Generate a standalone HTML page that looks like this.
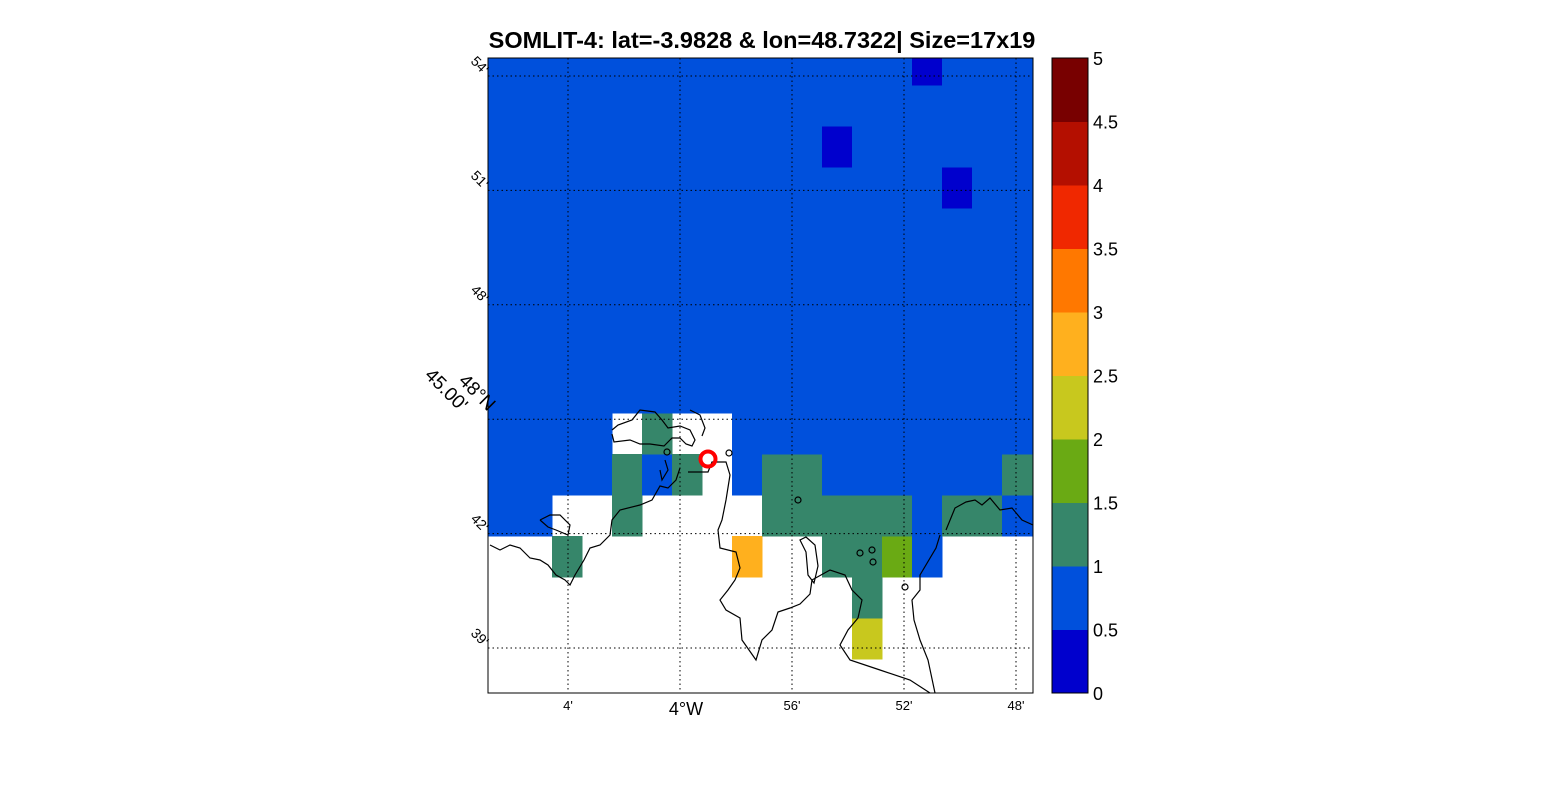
<!DOCTYPE html>
<html><head><meta charset="utf-8"><style>
body{margin:0;background:#fff;}
svg text{font-family:"Liberation Sans",sans-serif;}
</style></head><body>
<svg width="1563" height="781" xmlns="http://www.w3.org/2000/svg">
<text x="762" y="48" text-anchor="middle" font-size="23.5" font-weight="bold">SOMLIT-4: lat=-3.9828 &amp; lon=48.7322| Size=17x19</text>
<defs><clipPath id="ax"><rect x="488" y="58" width="545" height="635"/></clipPath></defs>
<g id="cells" clip-path="url(#ax)"></g>
<g id="grid"></g>
<g clip-path="url(#ax)" fill="none" stroke="#000" stroke-width="1.2">
<path d="M612,430 L618,425 L632,420 L640,410 L655,412 L662,420 L668,428 L680,426 L690,430 L695,440 L692,446 L686,444 L680,438 L672,438 L664,446 L650,444 L640,444 L630,440 L614,442 L612,434"/>
<path d="M690,410 L700,415 L705,428 L702,436"/>
<path d="M680,468 L676,480 L668,488 L660,486 L652,500 L640,505 L620,510 L612,520 L610,535 L600,545 L590,548 L584,560 L575,575 L570,585 L565,580 L556,575 L548,565 L540,560 L530,558 L520,548 L510,545 L500,550 L490,545"/>
<path d="M660,470 L662,480 L668,470 L665,460"/>
<path d="M688,472 L708,472 L712,462 L726,462 L730,475 L726,500 L722,520 L718,530 L720,548 L736,552 L740,568 L735,580 L728,590 L720,600 L726,610 L740,618 L742,640 L756,660 L762,640 L772,630 L778,612 L790,608 L800,604 L810,594 L812,580 L830,570 L845,575 L852,590 L862,600 L858,618 L848,630 L840,645 L850,660 L880,670 L910,680 L930,693"/>
<path d="M540,520 L550,515 L560,515 L570,525 L568,535 L556,530 L548,527 L540,520"/>
<path d="M800,540 L806,552 L808,575 L814,583 L818,566 L815,545 L806,537 Z"/>
<path d="M940,535 L936,548 L920,575 L920,590 L912,600 L914,620 L920,640 L928,660 L935,693"/>
<path d="M946,530 L955,508 L966,502 L975,500 L982,505 L990,498 L1000,510 L1012,508 L1022,520 L1033,525"/>
<circle cx="798" cy="500" r="3"/><circle cx="860" cy="553" r="3"/><circle cx="872" cy="550" r="3"/><circle cx="873" cy="562" r="3"/><circle cx="905" cy="587" r="3"/><circle cx="729" cy="453" r="3"/><circle cx="667" cy="452" r="3"/>
</g>
<rect x="488" y="58" width="545" height="635" fill="none" stroke="#000" stroke-width="1"/>
<circle cx="708" cy="459" r="7.5" fill="none" stroke="#f00" stroke-width="4"/>
<g id="ticks"></g>
<g id="cbar"></g>
<text transform="translate(438,362) rotate(45)" font-size="19"><tspan x="28" y="0">48°N</tspan><tspan x="0" y="20">45.00'</tspan></text>
<text x="686" y="715" text-anchor="middle" font-size="18">4°W</text>
<script>
const NS='http://www.w3.org/2000/svg';
const N=null;
// values by row from bottom (row 0) to top, 19 columns
const rows=[
[N,N,N,N,N,N,N,N,N,N,N,N,N,2.2,N,N,N,N,N],
[N,N,N,N,N,N,N,N,N,N,N,N,N,1.2,N,N,N,N,N],
[N,N,N,1.2,N,N,N,N,N,2.7,N,N,1.2,1.2,1.7,0.8,N,N,N],
[0.8,0.8,0.8,N,N,1.2,N,N,N,N,1.2,1.2,1.2,1.2,1.2,0.8,1.2,1.2,0.8],
[0.8,0.8,0.8,0.8,0.8,1.2,0.8,1.2,N,0.8,1.2,1.2,0.8,0.8,0.8,0.8,0.8,0.8,1.2],
[0.8,0.8,0.8,0.8,0.8,N,1.2,N,N,0.8,0.8,0.8,0.8,0.8,0.8,0.8,0.8,0.8,0.8],
[0.8,0.8,0.8,0.8,0.8,0.8,0.8,0.8,0.8,0.8,0.8,0.8,0.8,0.8,0.8,0.8,0.8,0.8,0.8],
[0.8,0.8,0.8,0.8,0.8,0.8,0.8,0.8,0.8,0.8,0.8,0.8,0.8,0.8,0.8,0.8,0.8,0.8,0.8],
[0.8,0.8,0.8,0.8,0.8,0.8,0.8,0.8,0.8,0.8,0.8,0.8,0.8,0.8,0.8,0.8,0.8,0.8,0.8],
[0.8,0.8,0.8,0.8,0.8,0.8,0.8,0.8,0.8,0.8,0.8,0.8,0.8,0.8,0.8,0.8,0.8,0.8,0.8],
[0.8,0.8,0.8,0.8,0.8,0.8,0.8,0.8,0.8,0.8,0.8,0.8,0.8,0.8,0.8,0.8,0.8,0.8,0.8],
[0.8,0.8,0.8,0.8,0.8,0.8,0.8,0.8,0.8,0.8,0.8,0.8,0.8,0.8,0.8,0.8,0.3,0.8,0.8],
[0.8,0.8,0.8,0.8,0.8,0.8,0.8,0.8,0.8,0.8,0.8,0.8,0.3,0.8,0.8,0.8,0.8,0.8,0.8],
[0.8,0.8,0.8,0.8,0.8,0.8,0.8,0.8,0.8,0.8,0.8,0.8,0.8,0.8,0.8,0.8,0.8,0.8,0.8],
[0.8,0.8,0.8,0.8,0.8,0.8,0.8,0.8,0.8,0.8,0.8,0.8,0.8,0.8,0.8,0.3,0.8,0.8,0.8],
[0.8,0.8,0.8,0.8,0.8,0.8,0.8,0.8,0.8,0.8,0.8,0.8,0.8,0.8,0.8,0.8,0.8,0.8,0.8]
];
const colors=['#0000cd','#0050dc','#36866a','#6aaa14','#c8c81e','#ffb01e','#ff7800','#f02800','#b40f00','#780000'];
const cbarTicks=['0','0.5','1','1.5','2','2.5','3','3.5','4','4.5','5'];
const yTickLabels=["39'","42'","","48'","51'","54'"];
const xTickLabels=["4'","","56'","52'","48'"];
const colX=c=>462+30*c, rowY=r=>659-41*(r+1);
const vmin=0,vmax=5;
const colorOf=v=>colors[Math.min(colors.length-1,Math.floor((v-vmin)/(vmax-vmin)*colors.length))];
const cells=document.getElementById('cells');
rows.forEach((row,r)=>row.forEach((v,c)=>{if(v===null)return;
 const e=document.createElementNS(NS,'rect');
 e.setAttribute('x',colX(c));e.setAttribute('y',rowY(r));e.setAttribute('width',30.5);e.setAttribute('height',41.5);
 e.setAttribute('fill',colorOf(v));
 
 
 cells.appendChild(e);}));
const grid=document.getElementById('grid'), ticks=document.getElementById('ticks');
const yLat=i=>648-114.4*i, xLon=i=>568+112*i;
yTickLabels.forEach((t,i)=>{const y=yLat(i);
 const l=document.createElementNS(NS,'line');l.setAttribute('x1',488);l.setAttribute('x2',1033);l.setAttribute('y1',y);l.setAttribute('y2',y);
 l.setAttribute('stroke','#000');l.setAttribute('stroke-dasharray','1.5,3');l.setAttribute('stroke-width','1');
 
 
 grid.appendChild(l);
 if(t){const tx=document.createElementNS(NS,'text');tx.setAttribute('transform',`translate(470,${y-14}) rotate(45)`);tx.setAttribute('font-size','14');tx.textContent=t;
 
 
 ticks.appendChild(tx);}
});
xTickLabels.forEach((t,i)=>{const x=xLon(i);
 const l=document.createElementNS(NS,'line');l.setAttribute('x1',x);l.setAttribute('x2',x);l.setAttribute('y1',58);l.setAttribute('y2',693);
 l.setAttribute('stroke','#000');l.setAttribute('stroke-dasharray','1.5,3');l.setAttribute('stroke-width','1');
 
 
 grid.appendChild(l);
 if(t){const tx=document.createElementNS(NS,'text');tx.setAttribute('x',x);tx.setAttribute('y',710);tx.setAttribute('text-anchor','middle');tx.setAttribute('font-size','13');tx.textContent=t;
 
 
 ticks.appendChild(tx);}
});
const cb=document.getElementById('cbar');const cbY=v=>693-635*(v-vmin)/(vmax-vmin);
colors.forEach((col,i)=>{const v0=vmin+i*(vmax-vmin)/colors.length, v1=v0+(vmax-vmin)/colors.length;
 const e=document.createElementNS(NS,'rect');e.setAttribute('x',1052);e.setAttribute('y',cbY(v1));e.setAttribute('width',36);e.setAttribute('height',cbY(v0)-cbY(v1)+0.5);e.setAttribute('fill',col);
 
 
 cb.appendChild(e);});
const fr=document.createElementNS(NS,'rect');fr.setAttribute('x',1052);fr.setAttribute('y',58);fr.setAttribute('width',36);fr.setAttribute('height',635);fr.setAttribute('fill','none');fr.setAttribute('stroke','#000');


cb.appendChild(fr);
cbarTicks.forEach(t=>{const y=cbY(parseFloat(t));
 const tx=document.createElementNS(NS,'text');tx.setAttribute('x',1093);tx.setAttribute('y',y+7);tx.setAttribute('font-size','18');tx.textContent=t;
 
 
 cb.appendChild(tx);});
</script>
</svg>
</body></html>
